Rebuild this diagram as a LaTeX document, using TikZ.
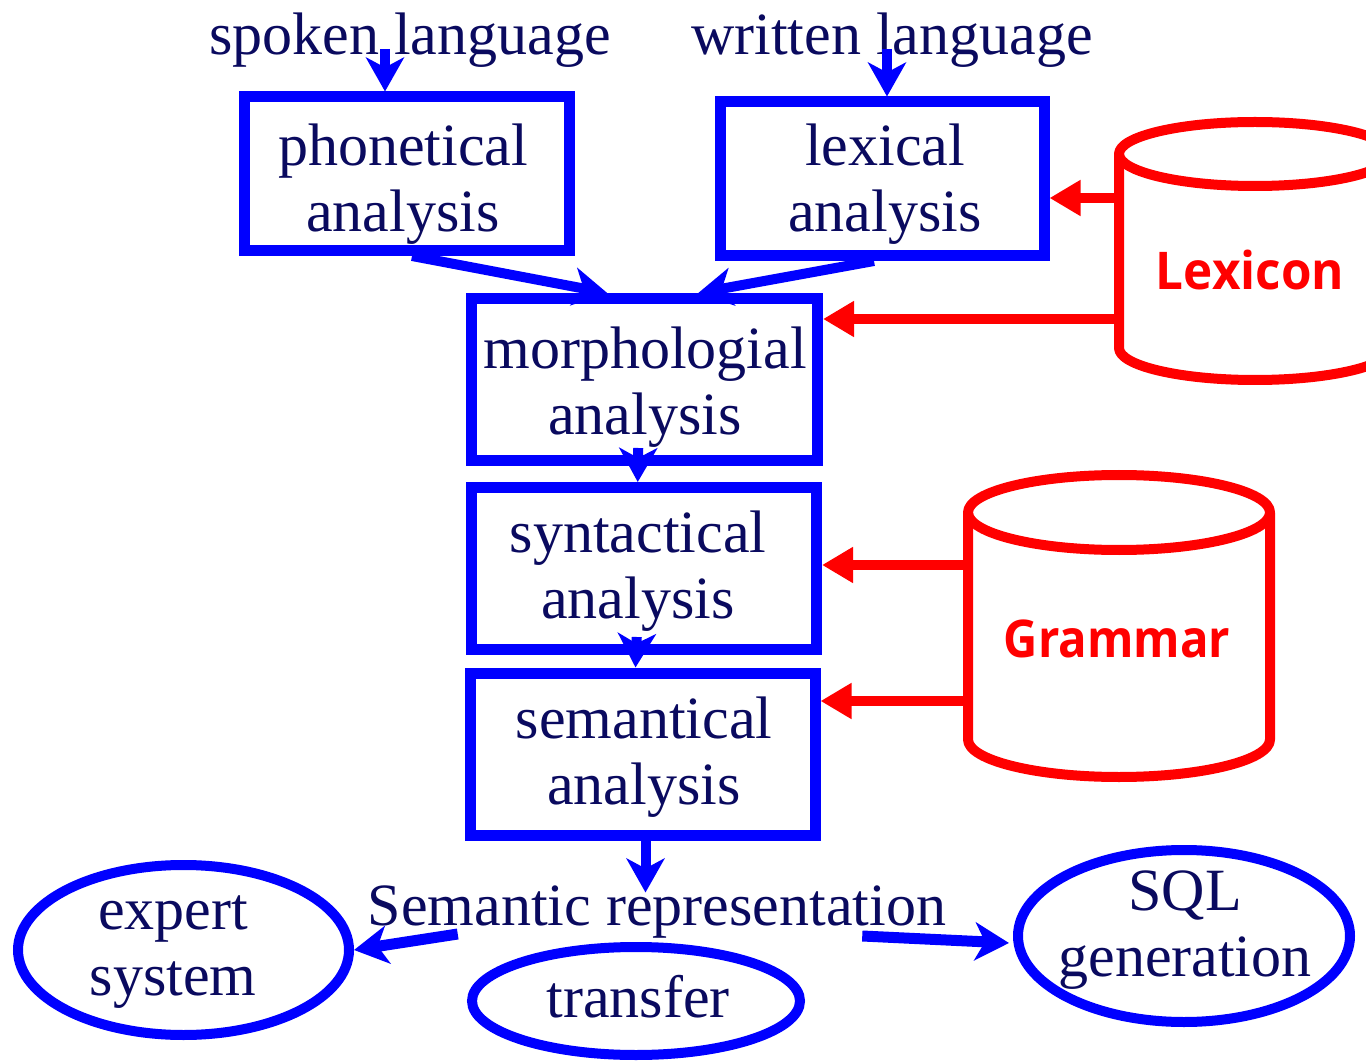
\documentclass[tikz,border=0pt]{standalone}
\usepackage{fontspec}
\setmainfont{Liberation Serif}
\newfontfamily\lblfont{Open Sans}
\usetikzlibrary{arrows.meta,shapes.geometric,calc}
\definecolor{navy}{RGB}{10,10,95}
\definecolor{bblue}{RGB}{0,0,255}
\definecolor{rred}{RGB}{255,0,0}
\begin{document}
\begin{tikzpicture}[x=1pt,y=-1pt,
  txt/.style={text=navy,font=\fontsize{60}{66}\selectfont,align=center,inner sep=0pt},
  procbox/.style={draw=bblue,line width=11pt,rectangle,inner sep=0pt},
  resell/.style={draw=bblue,line width=10pt,ellipse,inner sep=0pt},
  barrow/.style={draw=bblue,line width=10pt,-{Stealth[length=34pt,width=38pt,inset=10pt]}},
  rarrow/.style={draw=rred,line width=10pt,-{Triangle[length=31pt,width=34pt]}},
  cyl/.style={draw=rred,line width=10pt,line join=round},
  dbtxt/.style={text=rred,font=\lblfont\bfseries\fontsize{52}{60}\selectfont,inner sep=0pt}
]
\useasboundingbox (0,0) rectangle (1366,1064);
\fill[white] (0,0) rectangle (1366,1064);
\clip (0,0) rectangle (1366,1064);

% processing boxes
\node[procbox,minimum width=325pt,minimum height=153.5pt] (phon) at (407,173.75) {};
\node[procbox,minimum width=324pt,minimum height=153.5pt] (lexb) at (882,178.75) {};
\node[procbox,minimum width=346.5pt,minimum height=162pt] (morph) at (644.25,379.5) {};
\node[procbox,minimum width=345.5pt,minimum height=162pt] (synt) at (643.75,568.5) {};
\node[procbox,minimum width=345pt,minimum height=162pt] (sem) at (642.5,754) {};

% result ellipses
\node[resell,minimum width=331pt,minimum height=170pt] (expert) at (183.5,950) {};
\node[resell,minimum width=328pt,minimum height=108pt] (transfer) at (636,1001) {};
\node[resell,minimum width=332pt,minimum height=172pt] (sql) at (1184,936) {};

% texts
\node[txt,anchor=base] (spoken) at (410,55) {spoken language};
\node[txt,anchor=base] (written) at (892,55) {written language};
\node[txt] (phont) at (403,184) {phonetical\\analysis};
\node[txt] (lext) at (885,184) {lexical\\analysis};
\node[txt] (morpht) at (645,387) {morphologial\\analysis};
\node[txt] (syntt) at (638,571) {syntactical\\analysis};
\node[txt] (semt) at (644,757) {semantical\\analysis};
\node[txt,anchor=base] (semrep) at (657,925) {Semantic representation};
\node[txt] (expertt) at (173,952) {expert\\system};
\node[txt,anchor=base] (transt) at (638,1017) {transfer};
\node[txt] (sqlt) at (1185,930) {SQL\\generation};

% databases
\draw[cyl] (1255,154) ellipse [x radius=136pt, y radius=32pt];
\draw[cyl] (1119,154) -- (1119,348)
  .. controls (1119,365.7) and (1179.9,380) .. (1255,380)
  .. controls (1330.1,380) and (1391,365.7) .. (1391,348) -- (1391,154);
\node[dbtxt,anchor=base] (lexicon) at (1250,290) {\scalebox{0.95}[1]{Lexicon}};

\draw[cyl] (1119,512.5) ellipse [x radius=151pt, y radius=37.5pt];
\draw[cyl] (968,512.5) -- (968,739.5)
  .. controls (968,760.2) and (1035.6,777) .. (1119,777)
  .. controls (1202.4,777) and (1270,760.2) .. (1270,739.5) -- (1270,512.5);
\node[dbtxt,anchor=base] (grammar) at (1117,657) {\scalebox{0.91}[1]{Grammar}};

% red connectors
\coordinate (lexA) at (1119,198);
\coordinate (lexB) at (1119,319);
\coordinate (gramA) at (968,565);
\coordinate (gramB) at (968,701);
\draw[rarrow] (lexA) -- (lexA -| lexb.east);
\draw[rarrow] (lexB) -- (lexB -| morph.east);
\draw[rarrow] (gramA) -- (gramA -| synt.east);
\draw[rarrow] (gramB) -- (gramB -| sem.east);

% blue connectors
\draw[barrow] ($(spoken.base)+(-25,-6)$) -- ($(phon.north)+(-22,0)$);
\draw[barrow] ($(written.base)+(-5,-6)$) -- ($(lexb.north)+(5,0)$);
\draw[barrow] ($(phon.south)+(5,0)$) -- ($(morph.north)+(-37,0)$);
\draw[barrow] ($(lexb.south)+(-8,0)$) -- ($(morph.north)+(54,0)$);
\draw[barrow] ($(morph.south)+(-6,-18)$) -- ($(synt.north)+(-6,0)$);
\draw[barrow] ($(synt.south)+(-7,-18)$) -- ($(sem.north)+(-7,0)$);
\draw[barrow] ($(sem.south)+(3,-5)$) -- ($(sem.south)+(3,52)$);
\draw[barrow,line width=11pt] ($(semrep.base west)+(90,9)$) -- (expert.east);
\draw[barrow,line width=11pt] ($(semrep.base east)+(-84,11)$) -- ($(sql.west)+(-4,7)$);
\end{tikzpicture}
\end{document}
